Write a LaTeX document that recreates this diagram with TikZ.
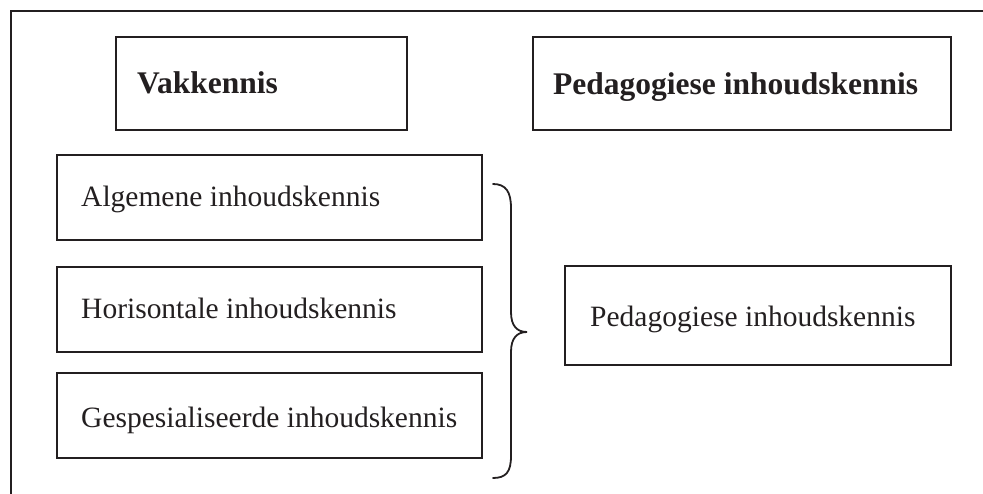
\documentclass[tikz,border=0pt]{standalone}
\usepackage{fontspec}
\setmainfont{Liberation Serif}
\definecolor{ink}{HTML}{231F20}
\begin{document}
\begin{tikzpicture}[x=1pt,y=-1pt,
  frame/.style={draw=ink,line width=2.8pt},
  box/.style={draw=ink,line width=2.4pt,rectangle,inner sep=0pt},
  txt/.style={anchor=base west,inner sep=0pt,text=ink,font=\fontsize{29.5}{35}\selectfont},
  headtxt/.style={txt,font=\fontsize{31.5}{37}\selectfont\bfseries},
  bracestyle/.style={draw=ink,line width=1.8pt,line cap=round}]
\useasboundingbox (0,0) rectangle (983,494);
% outer frame (only top and left visible)
\coordinate (fl) at (11,494);
\coordinate (fc) at (11,11);
\coordinate (fr) at (983,11);
\draw[frame] (fl) -- (fc) -- (fr);
% header boxes
\node[box,minimum width=291pt,minimum height=93pt] (vak) at (261.5,83.5) {};
\node[headtxt] (vakt) at (137,94) {Vakkennis};
\node[box,minimum width=418pt,minimum height=93pt] (ped) at (742,83.5) {};
\node[headtxt] (pedt) at (553,95) {Pedagogiese inhoudskennis};
% left boxes
\node[box,minimum width=425pt,minimum height=85pt] (alg) at (269.5,197.5) {};
\node[txt] (algt) at (81,207) {Algemene inhoudskennis};
\node[box,minimum width=425pt,minimum height=85pt] (hor) at (269.5,309.5) {};
\node[txt] (hort) at (81,319) {Horisontale inhoudskennis};
\node[box,minimum width=425pt,minimum height=85pt] (ges) at (269.5,415.5) {};
\node[txt] (gest) at (81,427) {Gespesialiseerde inhoudskennis};
% right box
\node[box,minimum width=386pt,minimum height=99pt] (pik) at (758,315.5) {};
\node[txt] (pikt) at (590,327) {Pedagogiese inhoudskennis};
% brace
\coordinate (bt) at (493,184);
\coordinate (bb) at (493,478);
\coordinate (tip) at (527,332);
\draw[bracestyle] (bt) .. controls (506,184) and (511,192) .. (511,208)
  -- (511,312) .. controls (511,326) and (517,332) .. (tip)
  .. controls (517,332) and (511,338) .. (511,352)
  -- (511,456) .. controls (511,472) and (506,478) .. (bb);
\end{tikzpicture}
\end{document}
